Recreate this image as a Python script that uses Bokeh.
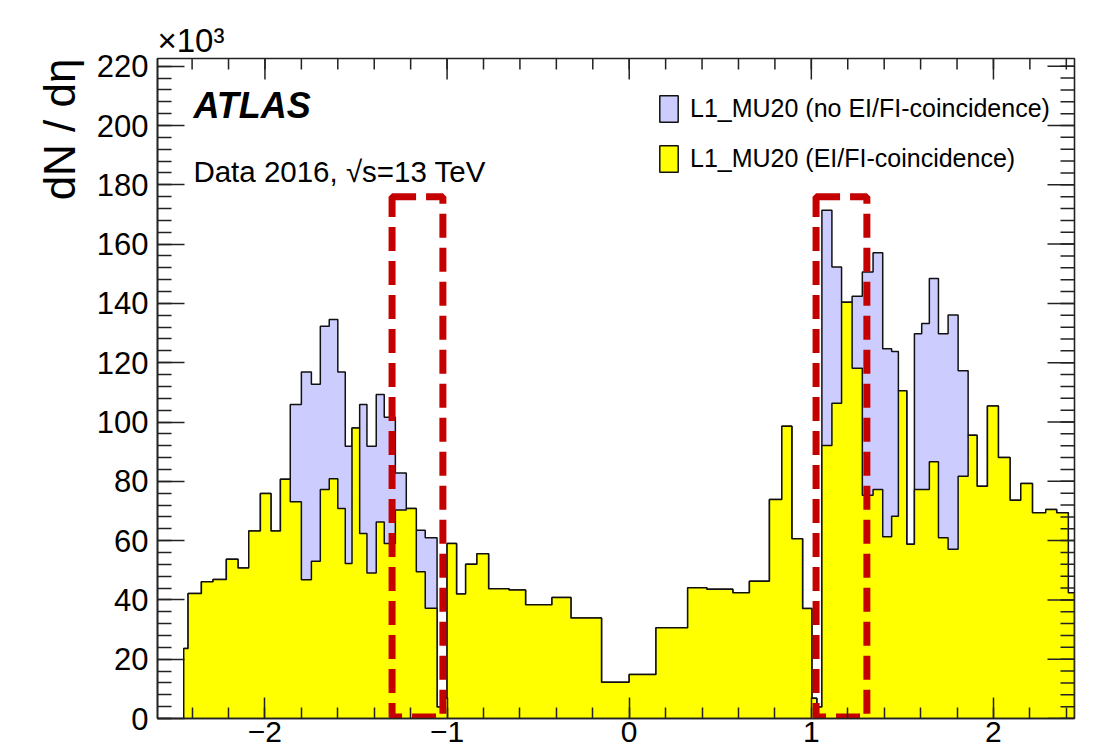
import numpy as np
from bokeh.plotting import figure
from bokeh.models import Range1d, FixedTicker, Label, Legend, LegendItem, Title
from bokeh.embed import file_html
from bokeh.resources import INLINE

# ---------------- data ----------------
eta_edges = [-2.446, -2.422, -2.349, -2.285, -2.212, -2.148, -2.089, -2.025, -1.967, -1.915,
             -1.861, -1.800, -1.745, -1.696, -1.647, -1.600, -1.559, -1.522, -1.480, -1.440,
             -1.389, -1.345, -1.284, -1.224, -1.169, -1.120, -1.055, -1.032, -1.000, -0.948,
             -0.898, -0.836, -0.772, -0.660, -0.569, -0.424, -0.320, -0.152, 0.000, 0.147,
             0.321, 0.426, 0.569, 0.660, 0.770, 0.838, 0.893, 0.952, 1.003, 1.030,
             1.058, 1.113, 1.166, 1.224, 1.280, 1.339, 1.392, 1.441, 1.478, 1.524,
             1.566, 1.606, 1.648, 1.698, 1.751, 1.806, 1.861, 1.910, 1.967, 2.027,
             2.091, 2.150, 2.214, 2.287, 2.347, 2.411, 2.444]

# L1_MU20 (EI/FI-coincidence), x10^3
coinc = [23.6, 42.2, 46.1, 46.9, 53.7, 50.8, 63.2, 75.9, 63.2, 80.7,
         73.1, 46.8, 53.0, 77.2, 80.9, 70.8, 52.3, 98.0, 62.4, 49.1,
         66.3, 59.0, 70.3, 70.8, 49.5, 37.2, 3.9, 6.8, 59.0, 42.0,
         52.0, 55.6, 43.8, 43.3, 38.4, 40.8, 33.9, 12.2, 14.8, 30.6,
         44.1, 43.6, 42.4, 46.3, 73.9, 98.6, 60.6, 37.1, 6.8, 3.9,
         92.1, 106.3, 140.4, 118.1, 75.3, 77.2, 61.3, 68.2, 110.5, 58.8,
         77.2, 77.2, 86.6, 61.0, 57.1, 81.7, 95.5, 78.3, 105.4, 88.0,
         73.6, 79.3, 69.4, 70.5, 69.4, 42.4]

# L1_MU20 (no EI/FI-coincidence), x10^3
no_coinc = [23.6, 42.2, 46.1, 46.9, 53.7, 50.8, 63.2, 75.9, 63.2, 80.7,
            105.9, 116.9, 112.7, 132.3, 134.6, 116.9, 91.8, 98.0, 105.9, 91.8,
            109.3, 101.6, 82.8, 70.8, 63.5, 61.0, 3.9, 6.8, 59.0, 42.0,
            52.0, 55.6, 43.8, 43.3, 38.4, 40.8, 33.9, 12.2, 14.8, 30.6,
            44.1, 43.6, 42.4, 46.3, 73.9, 98.6, 60.6, 37.1, 6.8, 3.9,
            171.4, 152.3, 140.4, 142.4, 150.6, 157.1, 124.7, 123.8, 110.5, 58.8,
            129.8, 133.2, 148.4, 129.8, 136.1, 117.3, 95.5, 78.3, 105.4, 88.0,
            73.6, 79.3, 69.4, 70.5, 69.4, 42.4]

series_labels = ["L1_MU20 (no EI/FI-coincidence)", "L1_MU20 (EI/FI-coincidence)"]

# highlighted eta regions (dashed boxes)
box_eta_lo = [-1.302, 1.026]
box_eta_hi = [-1.023, 1.305]
box_top = [176.0, 176.0]
box_bottom = [0.5, 0.5]

x_major = [-2, -1, 0, 1, 2]
y_major = list(range(0, 221, 20))

FONT = "Liberation Sans"
W, H = 1095, 753
BL, BR, BT, BB = 157, 21, 58, 35
X0, X1 = -2.59, 2.445
Y0, Y1 = 0.0, 222.6


def outline(edges, vals):
    e = np.asarray(edges, dtype=float)
    v = np.asarray(vals, dtype=float)
    xs = np.repeat(e, 2)
    ys = np.concatenate([[0.0], np.repeat(v, 2), [0.0]])
    return xs, ys


p = figure(width=W, height=H, output_backend="svg", toolbar_location=None,
           x_range=Range1d(X0, X1), y_range=Range1d(Y0, Y1),
           min_border_left=BL, min_border_right=BR, min_border_top=BT, min_border_bottom=BB)
p.xgrid.visible = False
p.ygrid.visible = False
p.outline_line_color = "#222222"
p.outline_line_width = 1.6
p.background_fill_color = "white"
p.border_fill_color = "white"

bx, by = outline(eta_edges, no_coinc)
r_blue = p.patch(bx, by, fill_color="#ccccff", line_color="#111111", line_width=1.5)
yx, yy = outline(eta_edges, coinc)
r_yel = p.patch(yx, yy, fill_color="#ffff00", line_color="#111111", line_width=1.5)

p.quad(left=box_eta_lo, right=box_eta_hi, bottom=box_bottom, top=box_top,
       fill_color=None, line_color="#c40000", line_width=7, line_dash="24 10")

x_minor = [round(v, 1) for v in np.arange(-2.6, 2.45, 0.2)]
y_minor = list(range(0, 223, 4))
xt = FixedTicker(ticks=x_major, minor_ticks=x_minor)
yt = FixedTicker(ticks=y_major, minor_ticks=y_minor)

XMAJ, XMIN, YMAJ, YMIN = 21, 11, 27, 14


def style_axis(ax, ticker, major_in, minor_in):
    ax.ticker = ticker
    ax.axis_line_color = "#222222"
    ax.axis_line_width = 1.6
    ax.major_tick_in = major_in
    ax.major_tick_out = 0
    ax.minor_tick_in = minor_in
    ax.minor_tick_out = 0
    ax.major_tick_line_color = "#222222"
    ax.minor_tick_line_color = "#222222"
    ax.major_tick_line_width = 1.5
    ax.minor_tick_line_width = 1.5
    ax.major_label_text_font = FONT
    ax.major_label_text_color = "black"


xa = p.xaxis[0]
style_axis(xa, xt, XMAJ, XMIN)
xa.major_label_text_font_size = "30px"
xa.major_label_standoff = 3
xa.major_label_overrides = {v: (str(v).replace("-", "\u2212")) for v in x_major}

ya = p.yaxis[0]
style_axis(ya, yt, YMAJ, YMIN)
ya.major_label_text_font_size = "31px"
ya.major_label_standoff = 9

# mirrored ticks on the top and right frame edges (ROOT style)
ppx = (W - BL - BR) / (X1 - X0)
ppy = (H - BT - BB) / (Y1 - Y0)
tick_kw = dict(line_color="#222222", line_width=1.5)
xm = np.asarray(x_major, float)
xn = np.asarray([v for v in x_minor if X0 <= v <= X1], float)
p.segment(x0=xm, x1=xm, y0=np.full(xm.size, Y1), y1=np.full(xm.size, Y1 - XMAJ / ppy), **tick_kw)
p.segment(x0=xn, x1=xn, y0=np.full(xn.size, Y1), y1=np.full(xn.size, Y1 - XMIN / ppy), **tick_kw)
ym = np.asarray(y_major, float)
yn = np.asarray([v for v in y_minor if Y0 <= v <= Y1], float)
p.segment(x0=np.full(ym.size, X1), x1=np.full(ym.size, X1 - YMAJ / ppx), y0=ym, y1=ym, **tick_kw)
p.segment(x0=np.full(yn.size, X1), x1=np.full(yn.size, X1 - YMIN / ppx), y0=yn, y1=yn, **tick_kw)

# texts
p.add_layout(Label(x=-2.393, y=206.8, text="ATLAS", text_font=FONT, text_font_style="bold italic",
                   text_font_size="36px", text_baseline="alphabetic", text_color="black"))
p.add_layout(Label(x=-2.393, y=184.6, text="Data 2016, \u221as=13 TeV", text_font=FONT,
                   text_font_size="29.5px", text_baseline="alphabetic", text_color="black"))

p.add_layout(Title(text="dN / d\u03b7", align="right", text_font=FONT, text_font_size="44px",
                   text_font_style="normal", text_color="black", standoff=20), "left")
p.add_layout(Title(text="\u00d710\u00b3", align="left", text_font=FONT, text_font_size="33px",
                   text_font_style="normal", text_color="black", standoff=0), "above")

legend = Legend(items=[LegendItem(label=series_labels[0], renderers=[r_blue]),
                       LegendItem(label=series_labels[1], renderers=[r_yel])],
                location=(500, 543), glyph_width=23, glyph_height=33, label_height=33,
                spacing=17, padding=0, margin=0, label_standoff=10,
                label_text_font=FONT, label_text_font_size="25px", label_text_color="black",
                background_fill_alpha=0, border_line_color=None)
p.add_layout(legend)

open("out.html", "w").write(file_html(p, INLINE))
